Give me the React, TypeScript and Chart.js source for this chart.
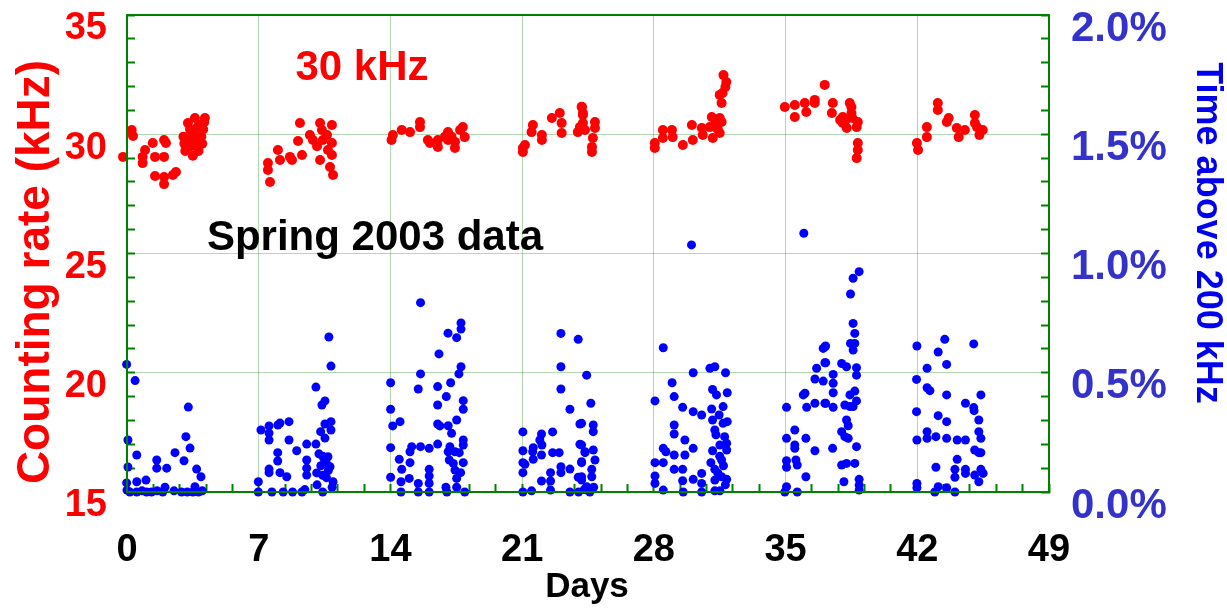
import React, { useEffect, useRef } from "react";
import { Chart, registerables } from "chart.js";

Chart.register(...registerables);

// Counting rate (kHz), one cluster of [day, rate] readings per week
const rateWeek1: number[][] = [
  [-0.28, 29.34], [-0.21, 29.05], [0.25, 30.18], [0.32, 29.93], [0.83, 29.05], [0.96, 29.34],
  [0.83, 28.79], [1.37, 29.63], [1.49, 29.05], [1.97, 29.76], [2.07, 29.63], [1.97, 29.05],
  [1.49, 28.25], [1.97, 28.21], [1.97, 27.91], [2.44, 28.29], [2.6, 28.42], [3.24, 30.47],
  [3.61, 30.68], [4.14, 30.68], [3.0, 29.9], [3.05, 29.6], [3.1, 29.3], [3.25, 29.8],
  [3.35, 30.2], [3.4, 29.5], [3.5, 29.1], [3.55, 30.0], [3.65, 29.6], [3.75, 30.3],
  [3.8, 29.3], [3.9, 30.4], [3.95, 29.9], [4.05, 30.2], [4.1, 30.5], [3.7, 29.9], [4.0, 29.6],
];
const rateWeek2: number[][] = [
  [7.49, 28.79], [7.49, 28.5], [7.6, 28.0], [8.02, 29.34], [8.13, 28.92], [8.66, 29.05],
  [8.77, 28.92], [9.3, 29.13], [9.09, 29.72], [9.19, 30.47], [9.72, 29.97], [9.88, 29.76],
  [10.26, 30.47], [10.89, 30.39], [10.41, 29.76], [10.89, 29.63], [10.68, 29.34], [10.89, 29.13],
  [10.26, 28.92], [10.79, 28.63], [10.95, 28.29], [10.36, 30.18], [10.63, 29.97], [10.1, 29.5],
];
const rateWeek3: number[][] = [
  [14.06, 29.76], [14.13, 29.97], [14.6, 30.18], [15.04, 30.09], [15.57, 30.51], [15.57, 30.3],
  [15.99, 29.76], [16.1, 29.63], [16.52, 29.76], [16.52, 29.47], [17.06, 30.09], [17.06, 29.76],
  [17.43, 29.42], [17.43, 29.68], [17.7, 30.18], [17.85, 30.3], [17.95, 29.88], [16.9, 29.9],
  [17.25, 29.9],
];
const rateWeek4: number[][] = [
  [21.04, 29.42], [21.04, 29.26], [21.15, 29.55], [21.57, 30.39], [21.5, 30.09], [22.05, 29.97],
  [22.05, 29.76], [22.58, 30.68], [23.0, 30.89], [23.1, 30.47], [23.1, 30.05], [24.16, 31.15],
  [24.23, 30.81], [24.23, 30.47], [24.34, 30.18], [24.87, 30.51], [24.87, 30.26], [24.76, 29.84],
  [24.71, 29.47], [24.71, 29.26], [24.07, 30.3], [23.96, 30.09], [24.23, 30.89], [24.18, 31.14],
];
const rateWeek5: number[][] = [
  [28.05, 29.63], [28.05, 29.42], [28.48, 30.18], [28.48, 29.84], [28.96, 30.18], [29.0, 29.88],
  [29.54, 29.55], [30.02, 30.39], [30.07, 29.76], [30.55, 30.26], [30.6, 29.97], [31.08, 30.72],
  [30.97, 30.3], [31.13, 29.84], [31.5, 30.68], [31.5, 30.05], [31.6, 30.51], [31.6, 31.31],
  [31.5, 31.65], [31.65, 31.73], [31.8, 31.98], [31.85, 32.19], [31.7, 32.48], [31.3, 30.5],
  [31.4, 30.2],
];
const rateWeek6: number[][] = [
  [34.96, 31.14], [35.49, 31.23], [35.49, 30.72], [36.02, 31.31], [36.1, 30.93], [36.55, 31.44],
  [36.55, 31.31], [37.08, 32.07], [37.51, 31.31], [37.46, 30.89], [38.04, 30.72], [38.04, 30.47],
  [38.25, 30.26], [38.41, 31.31], [38.5, 31.14], [38.5, 30.89], [38.55, 30.68], [38.78, 30.3],
  [38.84, 30.51], [38.84, 29.63], [38.84, 29.34], [38.78, 29.0], [38.2, 30.6], [37.9, 30.6],
];
const rateWeek7: number[][] = [
  [41.98, 29.63], [42.04, 29.34], [42.51, 30.3], [42.51, 29.88], [43.09, 31.31], [43.09, 31.02],
  [43.57, 30.51], [43.67, 30.68], [44.1, 30.26], [44.2, 29.88], [44.53, 30.18], [45.06, 30.81],
  [45.06, 30.47], [45.17, 30.3], [45.48, 30.18], [45.3, 29.97],
];

// Share of time above 200 kHz (%), [day, percent]
const timeWeek1: number[][] = [
  [-0.02, 0.535], [0.43, 0.467], [0.05, 0.218], [0.52, 0.155], [0.05, 0.105], [-0.02, 0.038],
  [0.0, 0.008], [0.52, 0.043], [0.52, 0.0], [1.01, 0.05], [1.04, 0.0], [1.58, 0.134],
  [1.58, 0.1], [2.11, 0.1], [2.02, 0.02], [2.55, 0.165], [3.03, 0.131], [3.13, 0.232],
  [3.35, 0.184], [3.26, 0.356], [3.7, 0.096], [3.93, 0.064], [3.61, 0.022], [0.15, 0.0],
  [1.3, 0.0], [1.9, 0.0], [2.5, 0.005], [2.9, 0.0], [3.2, 0.0], [3.5, 0.0], [3.8, 0.0],
  [4.0, 0.005], [0.8, 0.005], [1.6, 0.005],
];
const timeWeek2: number[][] = [
  [6.98, 0.043], [6.98, 0.0], [7.12, 0.26], [7.55, 0.247], [7.55, 0.277], [7.55, 0.218],
  [8.02, 0.281], [8.13, 0.289], [8.61, 0.295], [8.61, 0.218], [8.01, 0.165], [8.01, 0.13],
  [7.55, 0.096], [7.55, 0.081], [8.13, 0.081], [8.49, 0.064], [9.02, 0.173], [9.55, 0.201],
  [10.04, 0.201], [10.04, 0.44], [10.36, 0.365], [10.52, 0.382], [10.73, 0.65], [10.84, 0.528],
  [10.52, 0.285], [10.84, 0.295], [10.84, 0.26], [10.29, 0.253], [10.52, 0.226], [9.55, 0.134],
  [9.55, 0.1], [9.55, 0.071], [10.08, 0.08], [10.68, 0.148], [10.79, 0.106], [10.95, 0.043],
  [10.2, 0.16], [10.4, 0.15], [10.5, 0.13], [10.6, 0.12], [10.3, 0.11], [10.7, 0.09],
  [10.4, 0.07], [10.6, 0.06], [7.7, 0.0], [8.3, 0.0], [8.8, 0.0], [9.3, 0.0], [9.45, 0.01],
  [10.1, 0.03], [10.4, 0.0], [10.9, 0.02],
];
const timeWeek3: number[][] = [
  [15.6, 0.794], [17.75, 0.709], [17.75, 0.683], [17.06, 0.666], [17.52, 0.647], [16.58, 0.579],
  [17.75, 0.525], [17.64, 0.495], [15.6, 0.495], [14.01, 0.458], [15.48, 0.432], [16.51, 0.442],
  [17.2, 0.458], [16.97, 0.4], [16.51, 0.365], [17.87, 0.383], [17.87, 0.347], [14.01, 0.347],
  [14.12, 0.277], [14.51, 0.295], [16.51, 0.285], [16.63, 0.277], [17.07, 0.278], [17.52, 0.302],
  [17.25, 0.246], [14.01, 0.186], [15.13, 0.19], [15.6, 0.19], [16.06, 0.183], [16.51, 0.201],
  [15.04, 0.169], [14.47, 0.137], [15.04, 0.123], [14.6, 0.095], [16.06, 0.095], [16.06, 0.067],
  [15.0, 0.057], [14.01, 0.062], [14.56, 0.043], [15.48, 0.036], [16.06, 0.036], [17.16, 0.19],
  [17.43, 0.169], [17.07, 0.169], [17.66, 0.165], [17.87, 0.218], [17.87, 0.197], [17.13, 0.134],
  [17.34, 0.12], [17.87, 0.123], [17.43, 0.092], [17.73, 0.081], [17.52, 0.057], [16.95, 0.02],
  [17.52, 0.02], [14.56, 0.0], [15.48, 0.0], [16.06, 0.0], [17.0, 0.0], [17.95, 0.0],
];
const timeWeek4: number[][] = [
  [23.06, 0.665], [23.98, 0.64], [23.06, 0.525], [24.43, 0.49], [23.06, 0.432], [23.54, 0.347],
  [24.07, 0.285], [21.04, 0.252], [22.03, 0.243], [22.62, 0.252], [21.94, 0.218], [22.05, 0.197],
  [21.59, 0.186], [21.04, 0.173], [21.56, 0.169], [22.62, 0.165], [22.97, 0.165], [24.07, 0.2],
  [24.34, 0.165], [22.03, 0.155], [21.59, 0.137], [21.04, 0.123], [21.15, 0.116], [24.16, 0.123],
  [23.06, 0.106], [23.54, 0.096], [23.06, 0.081], [21.04, 0.081], [22.51, 0.081], [23.98, 0.062],
  [22.03, 0.046], [22.51, 0.046], [24.16, 0.05], [21.04, 0.0], [21.5, 0.005], [22.51, 0.008],
  [23.54, 0.0], [24.43, 0.008], [24.65, 0.372], [24.16, 0.288], [24.78, 0.281], [24.78, 0.253],
  [24.34, 0.169], [24.78, 0.176], [24.87, 0.134], [24.16, 0.197], [24.16, 0.127], [24.7, 0.095],
  [24.7, 0.064], [24.16, 0.064], [24.43, 0.022], [24.0, 0.0], [24.3, 0.01], [24.6, 0.0],
  [24.8, 0.02],
];
const timeWeek5: number[][] = [
  [30.0, 1.036], [28.5, 0.605], [30.09, 0.5], [30.98, 0.519], [31.24, 0.525], [31.81, 0.5],
  [28.97, 0.458], [28.06, 0.382], [29.08, 0.4], [31.12, 0.43], [31.33, 0.407], [31.9, 0.416],
  [29.53, 0.355], [30.09, 0.337], [30.54, 0.323], [31.07, 0.348], [31.12, 0.302], [31.47, 0.323],
  [31.68, 0.358], [31.68, 0.288], [31.9, 0.295], [29.08, 0.281], [29.08, 0.243], [31.24, 0.26],
  [31.76, 0.232], [29.65, 0.218], [28.5, 0.183], [28.64, 0.169], [29.08, 0.155], [29.65, 0.155],
  [30.09, 0.183], [31.12, 0.173], [31.51, 0.197], [31.87, 0.204], [31.87, 0.176], [28.06, 0.123],
  [28.5, 0.123], [29.08, 0.095], [29.53, 0.095], [30.54, 0.078], [31.03, 0.123], [31.24, 0.095],
  [31.6, 0.134], [28.06, 0.067], [28.06, 0.036], [28.5, 0.008], [29.53, 0.047], [30.09, 0.053],
  [30.54, 0.036], [31.24, 0.05], [31.87, 0.053], [31.6, 0.064], [29.56, 0.0], [30.54, 0.0],
  [31.24, 0.005], [31.51, 0.005], [31.3, 0.24], [31.5, 0.15], [31.7, 0.11], [31.4, 0.08],
  [31.8, 0.03],
];
const timeWeek6: number[][] = [
  [35.97, 1.085], [37.0, 0.602], [37.13, 0.612], [37.13, 0.542], [36.65, 0.519], [36.56, 0.474],
  [37.0, 0.465], [36.03, 0.414], [35.94, 0.407], [35.05, 0.355], [36.12, 0.355], [36.56, 0.372],
  [37.13, 0.372], [35.49, 0.26], [35.05, 0.225], [36.08, 0.225], [35.49, 0.197], [35.49, 0.183],
  [36.56, 0.173], [35.05, 0.131], [35.05, 0.104], [35.55, 0.134], [35.62, 0.113], [36.08, 0.064],
  [35.05, 0.022], [34.96, 0.0], [35.62, 0.0], [38.91, 0.924], [38.59, 0.896], [38.45, 0.83],
  [38.59, 0.707], [38.68, 0.665], [38.45, 0.623], [38.68, 0.623], [38.59, 0.595], [37.09, 0.609],
  [37.09, 0.542], [37.98, 0.539], [38.24, 0.525], [38.77, 0.521], [38.77, 0.49], [37.53, 0.493],
  [37.53, 0.456], [37.53, 0.416], [38.68, 0.423], [38.42, 0.407], [38.77, 0.382], [37.09, 0.372],
  [37.53, 0.355], [38.15, 0.365], [38.42, 0.358], [38.59, 0.358], [38.24, 0.302], [38.33, 0.278],
  [37.98, 0.253], [38.15, 0.232], [38.33, 0.225], [37.5, 0.183], [38.77, 0.19], [37.98, 0.113],
  [38.24, 0.12], [38.68, 0.12], [38.1, 0.043], [38.91, 0.053], [38.91, 0.029], [38.91, 0.008],
];
const timeWeek7: number[][] = [
  [41.98, 0.612], [43.46, 0.64], [45.0, 0.621], [43.11, 0.587], [43.56, 0.535], [42.52, 0.519],
  [41.96, 0.472], [42.52, 0.437], [42.67, 0.425], [43.56, 0.407], [45.38, 0.407], [44.56, 0.372],
  [45.0, 0.354], [45.02, 0.341], [41.96, 0.337], [43.11, 0.32], [43.56, 0.295], [45.27, 0.302],
  [42.52, 0.253], [42.99, 0.232], [42.52, 0.225], [41.98, 0.218], [43.56, 0.225], [44.12, 0.218],
  [44.56, 0.218], [45.27, 0.253], [45.38, 0.225], [45.05, 0.176], [45.27, 0.165], [45.38, 0.165],
  [44.12, 0.137], [42.99, 0.104], [44.0, 0.095], [44.56, 0.095], [44.56, 0.078], [45.05, 0.071],
  [45.38, 0.095], [45.5, 0.078], [44.0, 0.062], [45.27, 0.043], [41.98, 0.036], [41.98, 0.018],
  [43.11, 0.022], [42.93, 0.0], [43.56, 0.018], [44.0, 0.0],
];

const rateWeeks = [rateWeek1, rateWeek2, rateWeek3, rateWeek4, rateWeek5, rateWeek6, rateWeek7];
const timeWeeks = [timeWeek1, timeWeek2, timeWeek3, timeWeek4, timeWeek5, timeWeek6, timeWeek7];

// Axis ranges and tick spacing
const dayRange = [0, 49];
const dayMajorStep = 7;
const dayMinorStep = 1.4;
const rateRange = [15, 35];
const rateMajorStep = 5;
const timeRange = [0, 2];
const timeMajorStep = 0.5;

const FONT = "'Liberation Sans', Arial, Helvetica, sans-serif";
const AXIS_GREEN = "#008000";
const GRID_GREEN = "rgba(0, 128, 0, 0.3)";

const isMultiple = (v: number, step: number) => Math.abs(v / step - Math.round(v / step)) < 1e-6;

const toPoints = (weeks: number[][][]) =>
  weeks.flat().map(([x, y]) => ({ x, y }));

// Fixed axis boxes so the plot frame sits at the same place every time
const fixBox = (size: { width?: number; height?: number }) => (s: any) => {
  if (size.width !== undefined) s.width = size.width;
  if (size.height !== undefined) s.height = size.height;
  s.paddingTop = 0;
  s.paddingBottom = 0;
  s.paddingLeft = 0;
  s.paddingRight = 0;
};

// Frame, axis titles and notes
const overlayPlugin = {
  id: "overlay",
  afterDraw(chart: any) {
    const { ctx, chartArea } = chart;
    const { left, right, top, bottom } = chartArea;
    ctx.save();
    ctx.strokeStyle = AXIS_GREEN;
    ctx.lineWidth = 2;
    ctx.strokeRect(left, top, right - left, bottom - top);

    ctx.textAlign = "center";
    ctx.textBaseline = "middle";

    ctx.save();
    ctx.translate(36, 272);
    ctx.rotate(-Math.PI / 2);
    ctx.fillStyle = "#ff0000";
    ctx.font = `bold 46px ${FONT}`;
    ctx.fillText("Counting rate (kHz)", 0, 0);
    ctx.restore();

    ctx.save();
    ctx.translate(1207, 233);
    ctx.rotate(Math.PI / 2);
    ctx.fillStyle = "#0000ee";
    ctx.font = `bold 36px ${FONT}`;
    ctx.fillText("Time above 200 kHz", 0, 0);
    ctx.restore();

    ctx.fillStyle = "#ff0000";
    ctx.font = `bold 42px ${FONT}`;
    ctx.fillText("30 kHz", 362, 68);

    ctx.fillStyle = "#000000";
    ctx.font = `bold 42px ${FONT}`;
    ctx.fillText("Spring 2003 data", 375, 238);

    ctx.font = `bold 35px ${FONT}`;
    ctx.fillText("Days", 587, 587);
    ctx.restore();
  },
};

export default function App() {
  const canvasRef = useRef<HTMLCanvasElement | null>(null);

  useEffect(() => {
    const canvas = canvasRef.current;
    if (!canvas) return;

    const chart = new Chart(canvas, {
      type: "scatter",
      data: {
        datasets: [
          {
            label: "Counting rate",
            data: toPoints(rateWeeks),
            yAxisID: "y",
            backgroundColor: "#ff0000",
            borderWidth: 0,
            pointRadius: 5,
            clip: false,
          },
          {
            label: "Time above 200 kHz",
            data: toPoints(timeWeeks),
            yAxisID: "y2",
            backgroundColor: "#0000ff",
            borderWidth: 0,
            pointRadius: 4.5,
            clip: false,
          },
        ],
      },
      plugins: [overlayPlugin],
      options: {
        responsive: false,
        animation: false,
        devicePixelRatio: 1,
        layout: { padding: { top: 15, left: 0, right: 0, bottom: 0 } },
        plugins: {
          legend: { display: false },
          tooltip: { enabled: false },
        },
        scales: {
          x: {
            type: "linear",
            position: "bottom",
            min: dayRange[0],
            max: dayRange[1],
            afterFit: fixBox({ height: 117 }),
            ticks: {
              stepSize: dayMinorStep,
              autoSkip: false,
              maxRotation: 0,
              padding: 44,
              color: "#000000",
              font: { family: FONT, size: 38, weight: "bold" },
              callback: (v: any) => (isMultiple(Number(v), dayMajorStep) ? String(Math.round(Number(v))) : ""),
            },
            grid: {
              color: (c: any) => (c.tick && isMultiple(c.tick.value, dayMajorStep) ? GRID_GREEN : "transparent"),
              lineWidth: 1,
              tickColor: AXIS_GREEN,
              tickLength: -8,
              tickWidth: 2,
            },
            border: { color: AXIS_GREEN, width: 2 },
          },
          y: {
            type: "linear",
            position: "left",
            min: rateRange[0],
            max: rateRange[1],
            afterFit: fixBox({ width: 127 }),
            ticks: {
              stepSize: 1,
              autoSkip: false,
              padding: 28,
              labelOffset: 14,
              color: "#ff0000",
              font: { family: FONT, size: 38, weight: "bold" },
              callback: (v: any) => (isMultiple(Number(v), rateMajorStep) ? String(v) : ""),
            },
            grid: {
              color: (c: any) => (c.tick && isMultiple(c.tick.value, rateMajorStep) ? GRID_GREEN : "transparent"),
              lineWidth: 1,
              tickColor: AXIS_GREEN,
              tickLength: -8,
              tickWidth: 2,
            },
            border: { color: AXIS_GREEN, width: 2 },
          },
          y2: {
            type: "linear",
            position: "right",
            min: timeRange[0],
            max: timeRange[1],
            afterFit: fixBox({ width: 178 }),
            ticks: {
              stepSize: 0.1,
              autoSkip: false,
              padding: 30,
              labelOffset: 14,
              color: "#3333cc",
              font: { family: FONT, size: 42, weight: "bold" },
              callback: (v: any) => (isMultiple(Number(v), timeMajorStep) ? `${Number(v).toFixed(1)}%` : ""),
            },
            grid: {
              drawOnChartArea: false,
              tickColor: AXIS_GREEN,
              tickLength: -8,
              tickWidth: 2,
            },
            border: { color: AXIS_GREEN, width: 2 },
          },
        },
      },
    } as any);

    return () => chart.destroy();
  }, []);

  return (
    <div style={{ position: "fixed", left: 0, top: 0, width: 1227, height: 609, background: "#ffffff" }}>
      <canvas ref={canvasRef} width={1227} height={609} style={{ display: "block" }} />
    </div>
  );
}
